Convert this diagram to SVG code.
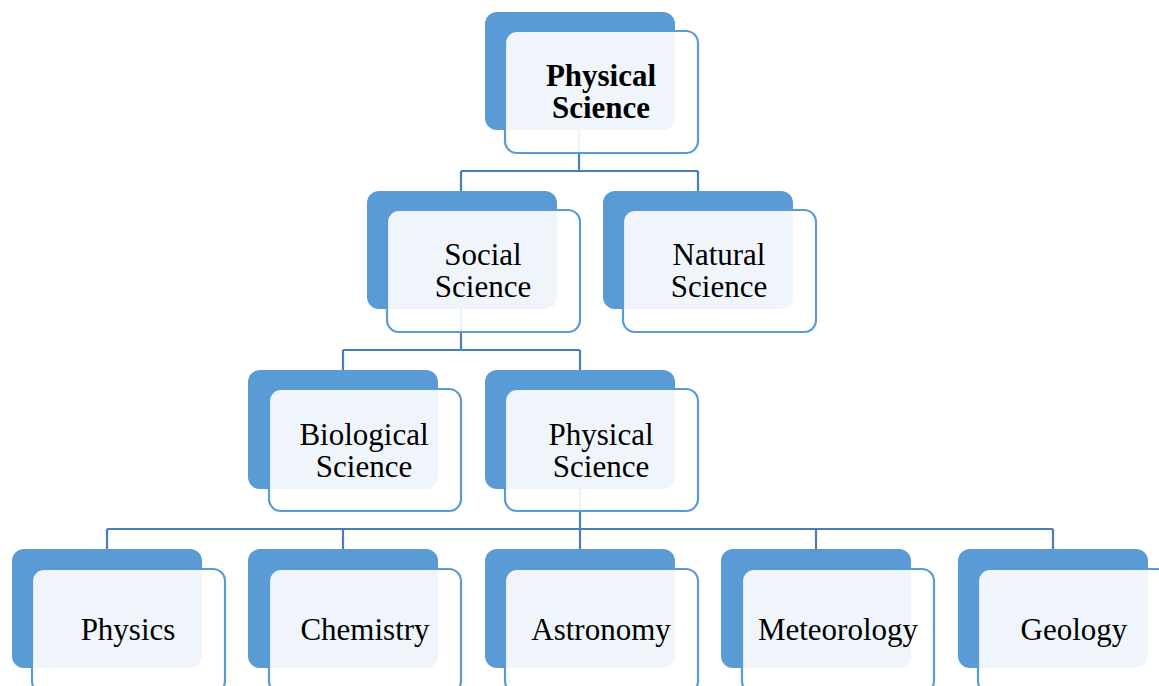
<svg xmlns="http://www.w3.org/2000/svg" width="1159" height="686" viewBox="0 0 1159 686">
  <style>
    .back { fill: #5B9BD5; }
    .front { fill: #FFFFFF; fill-opacity: 0.9; stroke: #5B9BD5; stroke-width: 2.2; }
    .link { fill: none; stroke: #4A7EBB; stroke-width: 2.2; }
    .label { font-family: "Liberation Serif", "Times New Roman", serif; font-size: 31px; fill: #000; text-anchor: middle; }
    .bold { font-weight: bold; }
  </style>
  <rect width="1159" height="686" fill="#FFFFFF"/>

  <!-- connectors: parent stem, bus line, drops to children -->
  <g id="connectors">
    <path class="link" d="M579,130 V171 M461,171 H698 M461,171 V191 M698,171 V191"/>
    <path class="link" d="M461,309 V350 M343,350 H580 M343,350 V370 M580,350 V370"/>
    <path class="link" d="M580,489 V529 M107,529 H1053 M107,529 V549 M343,529 V549 M580,529 V549 M816,529 V549 M1053,529 V549"/>
  </g>

  <g id="node-physical-science-root">
    <rect class="back" x="485" y="12" width="190" height="118" rx="12"/>
    <rect class="front" x="505" y="31" width="193" height="122" rx="12"/>
    <text class="label bold" x="601" y="86">Physical</text>
    <text class="label bold" x="601" y="118">Science</text>
  </g>

  <g id="node-social-science">
    <rect class="back" x="367" y="191" width="190" height="118" rx="12"/>
    <rect class="front" x="387" y="210" width="193" height="122" rx="12"/>
    <text class="label" x="483" y="265">Social</text>
    <text class="label" x="483" y="297">Science</text>
  </g>

  <g id="node-natural-science">
    <rect class="back" x="603" y="191" width="190" height="118" rx="12"/>
    <rect class="front" x="623" y="210" width="193" height="122" rx="12"/>
    <text class="label" x="719" y="265">Natural</text>
    <text class="label" x="719" y="297">Science</text>
  </g>

  <g id="node-biological-science">
    <rect class="back" x="248" y="370" width="190" height="119" rx="12"/>
    <rect class="front" x="269" y="389" width="192" height="122" rx="12"/>
    <text class="label" x="364" y="445">Biological</text>
    <text class="label" x="364" y="477">Science</text>
  </g>

  <g id="node-physical-science">
    <rect class="back" x="485" y="370" width="190" height="119" rx="12"/>
    <rect class="front" x="505" y="389" width="193" height="122" rx="12"/>
    <text class="label" x="601" y="445">Physical</text>
    <text class="label" x="601" y="477">Science</text>
  </g>

  <g id="node-physics">
    <rect class="back" x="12" y="549" width="190" height="119" rx="12"/>
    <rect class="front" x="32" y="569" width="193" height="124" rx="12"/>
    <text class="label" x="128" y="640">Physics</text>
  </g>

  <g id="node-chemistry">
    <rect class="back" x="248" y="549" width="190" height="119" rx="12"/>
    <rect class="front" x="269" y="569" width="192" height="124" rx="12"/>
    <text class="label" x="365" y="640">Chemistry</text>
  </g>

  <g id="node-astronomy">
    <rect class="back" x="485" y="549" width="190" height="119" rx="12"/>
    <rect class="front" x="505" y="569" width="193" height="124" rx="12"/>
    <text class="label" x="601" y="640">Astronomy</text>
  </g>

  <g id="node-meteorology">
    <rect class="back" x="721" y="549" width="190" height="119" rx="12"/>
    <rect class="front" x="742" y="569" width="192" height="124" rx="12"/>
    <text class="label" x="838" y="640">Meteorology</text>
  </g>

  <g id="node-geology">
    <rect class="back" x="958" y="549" width="190" height="119" rx="12"/>
    <rect class="front" x="978" y="569" width="193" height="124" rx="12"/>
    <text class="label" x="1074" y="640">Geology</text>
  </g>
</svg>
